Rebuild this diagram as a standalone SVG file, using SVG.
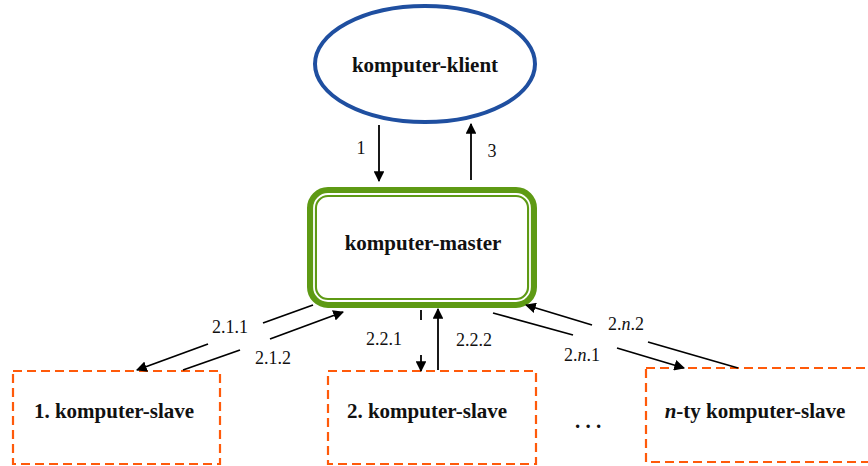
<svg xmlns="http://www.w3.org/2000/svg" width="868" height="466" viewBox="0 0 868 466">
<defs>
<style>
.main{font-family:"Liberation Serif",serif;font-weight:bold;font-size:21px;fill:#111;text-anchor:middle}
.lbl{font-family:"Liberation Serif",serif;font-size:18px;fill:#111;text-anchor:middle}
.slave{fill:none;stroke:#FF5A0A;stroke-width:2.2;stroke-dasharray:9 5}
.c{stroke:#000;stroke-width:1.8;fill:none}
.ca{stroke:#000;stroke-width:1.8;fill:none;marker-end:url(#ah)}
</style>
<marker id="ah" viewBox="0 0 10 10" refX="9" refY="5" markerWidth="6" markerHeight="6" orient="auto" markerUnits="strokeWidth">
<path d="M0,0 L10,5 L0,10 z" fill="#000"/>
</marker>
</defs>
<rect width="868" height="466" fill="#fff"/>
<g id="klient">
<ellipse cx="425" cy="64" rx="110" ry="58" fill="#fff" stroke="#1F4FA0" stroke-width="4"/>
<text class="main" x="425" y="72">komputer-klient</text>
</g>
<g id="master">
<rect x="312" y="192" width="220" height="111" rx="16" fill="#fff" stroke="#5E9A14" stroke-width="10"/>
<rect x="314" y="194" width="216" height="107" rx="14" fill="none" stroke="#fff" stroke-width="1.8"/>
<text class="main" x="423" y="250">komputer-master</text>
</g>
<g id="slave1">
<rect class="slave" x="13" y="371" width="207" height="93"/>
<text class="main" x="114" y="418">1. komputer-slave</text>
</g>
<g id="slave2">
<rect class="slave" x="328" y="371" width="208" height="93"/>
<text class="main" x="427" y="418">2. komputer-slave</text>
</g>
<g id="slaven">
<rect class="slave" x="646" y="368" width="226" height="94"/>
<text class="main" x="755" y="418"><tspan font-style="italic">n</tspan>-ty komputer-slave</text>
</g>
<g id="dots">
<text class="main" x="588" y="428">. . .</text>
</g>
<g id="connectors">
<line class="ca" x1="379" y1="125" x2="379" y2="181"/>
<line class="ca" x1="471" y1="180" x2="471" y2="124"/>
<line class="c" x1="313" y1="305" x2="263" y2="323"/>
<line class="ca" x1="208" y1="344" x2="137" y2="370"/>
<line class="c" x1="183" y1="370" x2="240" y2="350"/>
<line class="ca" x1="270" y1="339" x2="343" y2="312"/>
<line class="c" x1="421" y1="310" x2="421" y2="320"/>
<line class="ca" x1="421" y1="355" x2="421" y2="371"/>
<line class="ca" x1="438" y1="370" x2="438" y2="309"/>
<line class="c" x1="493" y1="313" x2="573" y2="335"/>
<line class="ca" x1="617" y1="348" x2="684" y2="368"/>
<line class="c" x1="738" y1="368" x2="648" y2="342"/>
<line class="ca" x1="592" y1="325" x2="526" y2="305"/>
</g>
<g id="labels">
<text class="lbl" x="361" y="154">1</text>
<text class="lbl" x="492" y="157">3</text>
<text class="lbl" x="230" y="333">2.1.1</text>
<text class="lbl" x="273" y="364">2.1.2</text>
<text class="lbl" x="384" y="345">2.2.1</text>
<text class="lbl" x="474" y="346">2.2.2</text>
<text class="lbl" x="582" y="361">2.<tspan font-style="italic">n</tspan>.1</text>
<text class="lbl" x="626" y="330">2.<tspan font-style="italic">n</tspan>.2</text>
</g>
</svg>
